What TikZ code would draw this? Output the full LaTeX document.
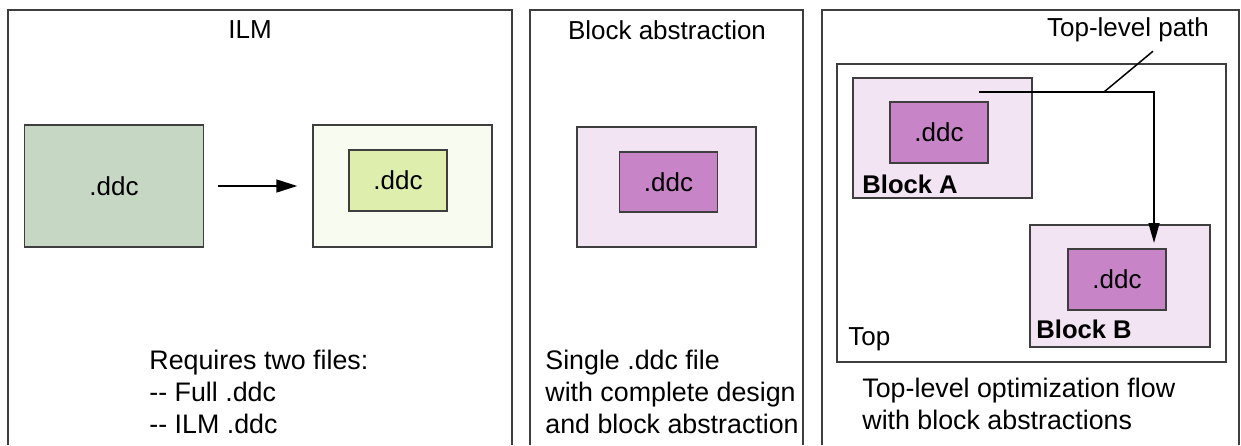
\documentclass[tikz,border=0pt]{standalone}
\usepackage{fontspec}
\setmainfont{Liberation Sans}
\usetikzlibrary{arrows.meta,positioning}
\definecolor{ln}{RGB}{62,62,62}
\definecolor{sage}{RGB}{198,216,196}
\definecolor{pale}{RGB}{248,251,240}
\definecolor{lime}{RGB}{222,238,172}
\definecolor{blush}{RGB}{243,228,243}
\definecolor{orchid}{RGB}{199,132,199}

\begin{document}
\begin{tikzpicture}[x=0.5pt,y=-0.5pt,font=\fontsize{13}{15.5}\selectfont,
      b/.style={draw=ln,line width=.75pt,inner sep=0pt},
      big/.style={b,minimum width=89.5pt,minimum height=61pt},
      small/.style={b,minimum width=49pt,minimum height=30.5pt},
      t/.style={inner sep=0pt,align=left,anchor=north west,font=\fontsize{13.4}{16}\selectfont},
      lbl/.style={inner sep=0pt,anchor=west,font=\fontsize{12.8}{15}\selectfont\bfseries}]
  \useasboundingbox (0,0) rectangle (1241,445);
  % panels
  \draw[ln,line width=.75pt] (8,445) |- (512,10) -- (512,445);
  \draw[ln,line width=.75pt] (530,445) |- (803,10) -- (803,445);
  \draw[ln,line width=.75pt] (822,445) |- (1239,10) -- (1239,445);
  % ILM
  \node (tilm) at (250,30) {ILM};
  \node[big,fill=sage] (full) at (114,186) {.ddc};
  \node[big,fill=pale] (ilm) at (402.5,186) {};
  \node[small,fill=lime] (ilmc) at (398,180.5) {.ddc};
  \draw[-{Triangle[length=10.5pt,width=6.5pt]},line width=.75pt,shorten <=7pt,shorten >=7.5pt] (full) -- (ilm);
  \node[t] (nilm) at (149,350) {Requires two files:\\-{}- Full .ddc\\-{}- ILM .ddc};
  % block abstraction
  \node (tba) at (667,30) {Block abstraction};
  \node[big,minimum height=60pt,fill=blush] (abs) at (666.5,187) {};
  \node[small,minimum height=30pt,fill=orchid] (absc) at (668.5,182) {.ddc};
  \node[t] (nba) at (545,350) {Single .ddc file\\with complete design\\and block abstraction};
  % top-level
  \node (tlp) at (1128,30) {Top-level path};
  \node[b,minimum width=194.5pt,minimum height=149pt] (top) at (1031.5,213) {};
  \node[inner sep=0pt,anchor=west] (ntop) at (848,339) {Top};
  \node[big,minimum height=60pt,fill=blush] (ba) at (942.5,138) {};
  \node[small,fill=orchid] (bac) at (939,132.5) {.ddc};
  \node[lbl] (nba) at (862,184) {Block A};
  \node[big,minimum width=90pt,fill=blush] (bb) at (1120,286) {};
  \node[small,fill=orchid] (bbc) at (1117,279.5) {.ddc};
  \node[lbl] (nbb) at (1036,329) {Block B};
  \coordinate (pa) at (979,92);
  \coordinate (pb) at (1154,243);
  \coordinate (pl) at (1104,92);
  \draw[-{Triangle[length=10pt,width=5.5pt]},line width=.75pt] (pa) -| (pb);
  \draw[line width=.75pt] (pl) -- ([xshift=12.5pt,yshift=-1pt]tlp.south);
  \node[t] (ntl) at (862,378) {Top-level optimization flow\\with block abstractions};
\end{tikzpicture}
\end{document}
